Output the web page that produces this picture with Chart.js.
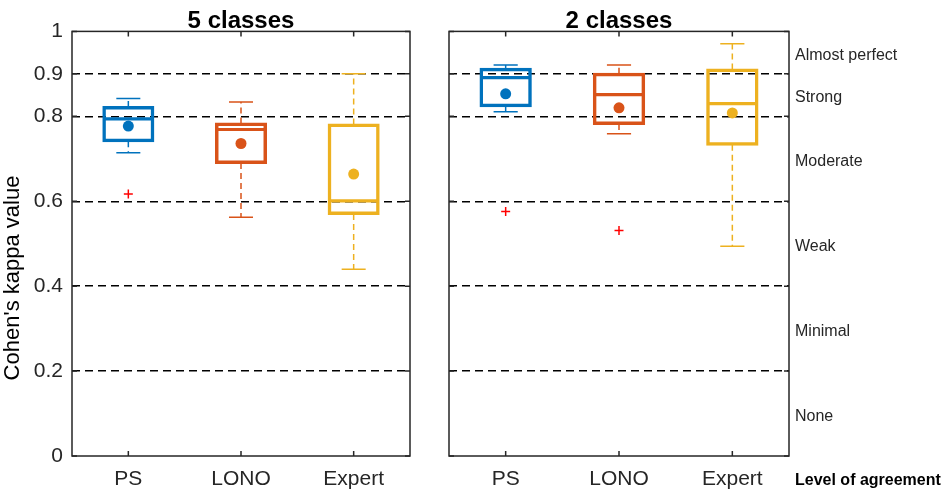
<!DOCTYPE html>
<html>
<head>
<meta charset="utf-8">
<script src="https://cdn.jsdelivr.net/npm/chart.js@4.4.0/dist/chart.umd.min.js"></script>
<style>
  body { margin: 0; background: #fff; }
  #wrap { position: relative; width: 944px; height: 495px; }
  canvas { position: absolute; top: 0; }
</style>
</head>
<body>
<div id="wrap">
  <canvas id="five" width="420" height="495" style="left:0"></canvas>
  <canvas id="two" width="514" height="495" style="left:430px"></canvas>
</div>
<script>
const categories = ['PS', 'LONO', 'Expert'];
const tickValues = [0, 0.2, 0.4, 0.6, 0.8, 0.9, 1];
const tickLabels = ['0', '0.2', '0.4', '0.6', '0.8', '0.9', '1'];
const gridValues = [0.2, 0.4, 0.6, 0.8, 0.9];
const levelValues = [0.1, 0.3, 0.5, 0.7, 0.85, 0.95];
const levelLabels = ['None', 'Minimal', 'Weak', 'Moderate', 'Strong', 'Almost perfect'];

// 5 classes
const fiveLow = [0.714, 0.562, 0.440];
const fiveQ1 = [0.741, 0.690, 0.570];
const fiveMedian = [0.794, 0.769, 0.601];
const fiveQ3 = [0.822, 0.783, 0.781];
const fiveHigh = [0.842, 0.834, 0.900];
const fiveMean = [0.777, 0.736, 0.664];
const fiveOutlier = [0.617, null, null];

// 2 classes
const twoLow = [0.811, 0.759, 0.494];
const twoQ1 = [0.824, 0.782, 0.733];
const twoMedian = [0.891, 0.851, 0.830];
const twoQ3 = [0.912, 0.900, 0.910];
const twoHigh = [0.921, 0.921, 0.971];
const twoMean = [0.853, 0.820, 0.808];
const twoOutlier = [0.576, 0.531, null];

const colors = ['#0072BD', '#D95319', '#EDB120'];
const axisColor = '#262626';

Chart.defaults.font.family = "'Liberation Sans', Arial, Helvetica, sans-serif";
Chart.defaults.color = axisColor;

// whiskers, caps, medians, then frame and inward ticks
const boxParts = {
    id: 'boxParts',
    beforeDatasetsDraw(chart, args, opts) {
        const {ctx, scales: {x, y}} = chart;
        const bars = chart.getDatasetMeta(2).data;
        ctx.save();
        categories.forEach((c, i) => {
            const cx = x.getPixelForValue(i);
            const bw = bars[i].width;
            ctx.strokeStyle = colors[i];
            ctx.lineWidth = 1.5;
            ctx.setLineDash([6, 4]);
            ctx.beginPath();
            ctx.moveTo(cx, y.getPixelForValue(opts.q3[i]));
            ctx.lineTo(cx, y.getPixelForValue(opts.high[i]));
            ctx.moveTo(cx, y.getPixelForValue(opts.q1[i]));
            ctx.lineTo(cx, y.getPixelForValue(opts.low[i]));
            ctx.stroke();
            ctx.setLineDash([]);
            const cap = bw * 0.24;
            ctx.beginPath();
            [opts.high[i], opts.low[i]].forEach(v => {
                const py = y.getPixelForValue(v);
                ctx.moveTo(cx - cap, py);
                ctx.lineTo(cx + cap, py);
            });
            ctx.stroke();
            ctx.lineWidth = 3.2;
            ctx.beginPath();
            const my = y.getPixelForValue(opts.median[i]);
            ctx.moveTo(cx - bw / 2, my);
            ctx.lineTo(cx + bw / 2, my);
            ctx.stroke();
        });
        ctx.restore();
    },
    afterDraw(chart) {
        const {ctx, chartArea: a, scales: {x, y}} = chart;
        ctx.save();
        ctx.strokeStyle = axisColor;
        ctx.lineWidth = 1.5;
        ctx.strokeRect(a.left, a.top, a.right - a.left, a.bottom - a.top);
        ctx.beginPath();
        tickValues.forEach(v => {
            const py = y.getPixelForValue(v);
            ctx.moveTo(a.left, py); ctx.lineTo(a.left + 5, py);
            ctx.moveTo(a.right, py); ctx.lineTo(a.right - 5, py);
        });
        categories.forEach((c, i) => {
            const px = x.getPixelForValue(i);
            ctx.moveTo(px, a.top); ctx.lineTo(px, a.top + 5);
            ctx.moveTo(px, a.bottom); ctx.lineTo(px, a.bottom - 5);
        });
        ctx.stroke();
        ctx.restore();
    }
};

const extraText = {
    id: 'extraText',
    afterDraw(chart, args, opts) {
        const {ctx, chartArea: a} = chart;
        ctx.save();
        ctx.fillStyle = opts.color || '#000';
        if (opts.yTitle) {
            ctx.font = "22px 'Liberation Sans', Arial, sans-serif";
            ctx.translate(13, 278);
            ctx.rotate(-Math.PI / 2);
            ctx.textAlign = 'center';
            ctx.textBaseline = 'middle';
            ctx.fillText(opts.yTitle, 0, 0);
        }
        if (opts.footer) {
            ctx.font = "bold 16px 'Liberation Sans', Arial, sans-serif";
            ctx.textAlign = 'left';
            ctx.textBaseline = 'middle';
            ctx.fillText(opts.footer, a.right + 6, 481);
        }
        ctx.restore();
    }
};

function yScale(showLabels, width) {
    return {
        min: 0, max: 1,
        afterBuildTicks: s => { s.ticks = tickValues.map(v => ({value: v})); },
        afterFit: s => { s.width = width; },
        grid: {
            drawTicks: false,
            lineWidth: 1.4,
            color: c => gridValues.includes(c.tick.value) ? '#000' : 'rgba(0,0,0,0)'
        },
        border: {display: false, dash: [8, 5]},
        ticks: {
            display: showLabels,
            padding: 9,
            color: axisColor,
            font: {size: 21},
            callback: v => tickLabels[tickValues.indexOf(v)]
        }
    };
}

function makeChart(id, title, s, yAxes, padding, extra) {
    return new Chart(document.getElementById(id), {
        type: 'bar',
        data: {
            labels: categories,
            datasets: [
                {
                    type: 'line', data: s.mean, showLine: false,
                    pointRadius: 5.5, pointBorderWidth: 0,
                    pointBackgroundColor: colors, borderColor: colors
                },
                {
                    type: 'line', data: s.outlier, showLine: false,
                    pointStyle: 'cross', pointRadius: 4.5, pointBorderWidth: 1.5,
                    borderColor: '#FF0000', pointBorderColor: '#FF0000'
                },
                {
                    data: s.q1.map((v, i) => [v, s.q3[i]]),
                    backgroundColor: 'rgba(0,0,0,0)',
                    borderColor: colors,
                    borderWidth: 1.5,
                    borderSkipped: false,
                    inflateAmount: 1,
                    barPercentage: 0.444,
                    categoryPercentage: 1
                }
            ]
        },
        options: {
            responsive: false,
            animation: false,
            layout: {padding: padding},
            scales: Object.assign({
                x: {
                    afterFit: sc => { sc.height = 39; },
                    grid: {display: false, drawTicks: false},
                    border: {display: false},
                    ticks: {padding: 11, color: axisColor, font: {size: 21}}
                }
            }, yAxes),
            plugins: {
                legend: {display: false},
                tooltip: {enabled: false},
                title: {
                    display: true, text: title, fullSize: false, color: '#000',
                    font: {size: 24, weight: 'bold', lineHeight: 0.85},
                    padding: {top: 11, bottom: 0}
                },
                boxParts: s,
                extraText: extra
            }
        },
        plugins: [boxParts, extraText]
    });
}

makeChart('five', '5 classes',
    {low: fiveLow, q1: fiveQ1, median: fiveMedian, q3: fiveQ3, high: fiveHigh, mean: fiveMean, outlier: fiveOutlier},
    {y: yScale(true, 72)},
    {left: 0, right: 10, top: 0, bottom: 0},
    {yTitle: "Cohen's kappa value", color: '#000'});

makeChart('two', '2 classes',
    {low: twoLow, q1: twoQ1, median: twoMedian, q3: twoQ3, high: twoHigh, mean: twoMean, outlier: twoOutlier},
    {
        y: yScale(false, 19),
        y2: {
            position: 'right', min: 0, max: 1,
            afterBuildTicks: s => { s.ticks = levelValues.map(v => ({value: v})); },
            afterFit: s => { s.width = 155; },
            grid: {display: false, drawTicks: false},
            border: {display: false},
            ticks: {
                padding: 6, labelOffset: 3, color: axisColor, font: {size: 16},
                callback: v => levelLabels[levelValues.indexOf(v)]
            }
        }
    },
    {left: 0, right: 0, top: 0, bottom: 0},
    {footer: 'Level of agreement', color: '#000'});
</script>
</body>
</html>
